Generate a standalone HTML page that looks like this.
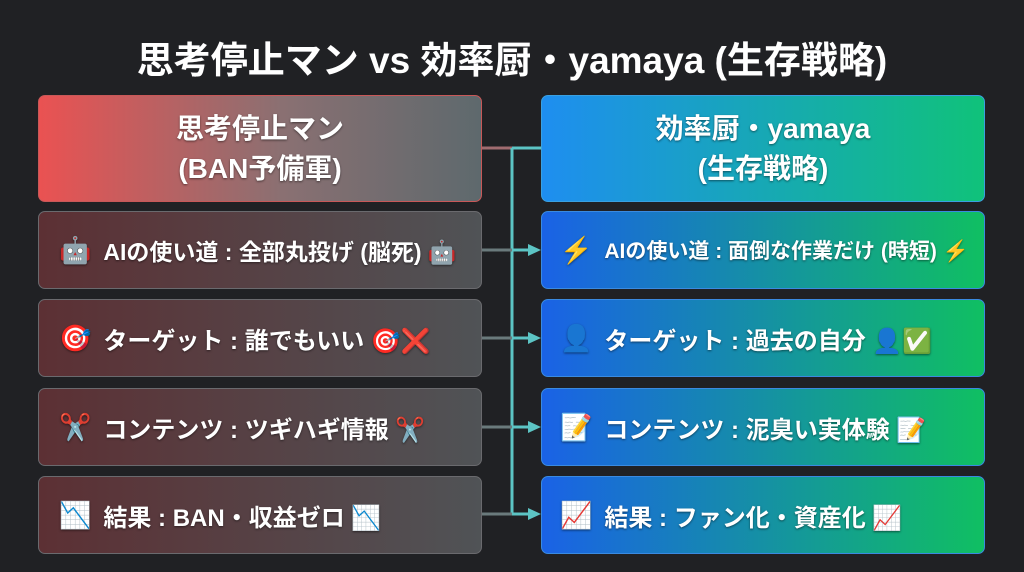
<!DOCTYPE html>
<html><head><meta charset="utf-8"><style>
body{margin:0;width:1024px;height:572px;background:#202124;overflow:hidden;font-family:"Liberation Sans","Noto Sans CJK JP",sans-serif;color:#fff;position:relative}
.t{position:absolute;top:30px;left:0;width:1024px;text-align:center;font-size:37px;font-weight:bold}
.b{position:absolute;box-sizing:border-box;border-radius:7px;display:flex;align-items:center;font-weight:bold;text-shadow:0 1px 2px rgba(0,0,0,.5);white-space:nowrap}
.lh{left:38px;top:95px;width:444px;height:107px;background:linear-gradient(90deg,#ea5252,#8a7072 55%,#5e696d);border:1.5px solid #c85858;justify-content:center;text-align:center;font-size:28px;line-height:40px}
.rh{left:541px;top:95px;width:444px;height:107px;background:linear-gradient(90deg,#1e8ef0,#10c27a);border:1.5px solid #3aa0e0;justify-content:center;text-align:center;font-size:28px;line-height:40px}
.l{left:38px;width:444px;height:78px;background:linear-gradient(90deg,#5c3034,#505356);border:1.5px solid #6a6a6e;padding-left:20px;font-size:24px}
.r{left:541px;width:444px;height:78px;background:linear-gradient(90deg,#1a62e6,#10bf62);border:1.5px solid #3a8ae0;padding-left:18px;font-size:24px}
.e{font-size:26px;margin-right:12px}
</style></head><body>
<div class="t">思考停止マン vs 効率厨・yamaya (生存戦略)</div>
<svg style="position:absolute;left:0;top:0" width="1024" height="572">
<line x1="482" y1="148" x2="512" y2="148" stroke="#a06c70" stroke-width="3"/>
<line x1="512" y1="148" x2="541" y2="148" stroke="#5cc4c4" stroke-width="3"/>
<line x1="512" y1="148" x2="512" y2="515" stroke="#5cc4c4" stroke-width="3"/>
<g stroke-width="3">
<line x1="482" y1="250" x2="512" y2="250" stroke="#6a7a7c"/><line x1="512" y1="250" x2="530" y2="250" stroke="#5cc4c4"/>
<line x1="482" y1="338" x2="512" y2="338" stroke="#6a7a7c"/><line x1="512" y1="338" x2="530" y2="338" stroke="#5cc4c4"/>
<line x1="482" y1="427" x2="512" y2="427" stroke="#6a7a7c"/><line x1="512" y1="427" x2="530" y2="427" stroke="#5cc4c4"/>
<line x1="482" y1="514" x2="512" y2="514" stroke="#6a7a7c"/><line x1="512" y1="514" x2="530" y2="514" stroke="#5cc4c4"/>
</g>
<g fill="#5cc4c4">
<polygon points="528,244 541,250 528,256"/><polygon points="528,332 541,338 528,344"/><polygon points="528,421 541,427 528,433"/><polygon points="528,508 541,514 528,520"/>
</g>
</svg>
<div class="b lh">思考停止マン<br>(BAN予備軍)</div>
<div class="b rh">効率厨・yamaya<br>(生存戦略)</div>
<div class="b l" style="top:211px;font-size:23px"><span class="e">🤖</span>AIの使い道 : 全部丸投げ (脳死) 🤖</div>
<div class="b l" style="top:299px"><span class="e">🎯</span>ターゲット : 誰でもいい 🎯❌</div>
<div class="b l" style="top:388px"><span class="e">✂️</span>コンテンツ : ツギハギ情報 ✂️</div>
<div class="b l" style="top:476px"><span class="e">📉</span>結果 : BAN・収益ゼロ 📉</div>
<div class="b r" style="top:211px;font-size:21px"><span class="e">⚡</span>AIの使い道 : 面倒な作業だけ (時短) ⚡</div>
<div class="b r" style="top:299px"><span class="e">👤</span>ターゲット : 過去の自分 👤✅</div>
<div class="b r" style="top:388px"><span class="e">📝</span>コンテンツ : 泥臭い実体験 📝</div>
<div class="b r" style="top:476px"><span class="e">📈</span>結果 : ファン化・資産化 📈</div>
</body></html>
